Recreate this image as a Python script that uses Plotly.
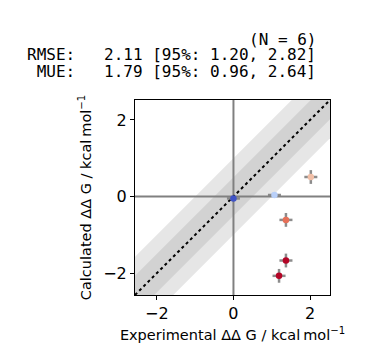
import plotly.graph_objects as go

# data
exp_ddg = [0.00, 1.07, 2.02, 1.37, 1.37, 1.19]
calc_ddg = [-0.05, 0.04, 0.51, -0.61, -1.67, -2.07]
exp_err = [0.17, 0.17, 0.17, 0.17, 0.17, 0.17]
calc_err = [0.0, 0.0, 0.18, 0.18, 0.18, 0.18]
point_colors = ["#3f53c6", "#b9d0f9", "#f2c0a8", "#e67058", "#b40426", "#b40426"]
stats_lines = ["(N = 6)", "RMSE:   2.11 [95%: 1.20, 2.82]", " MUE:   1.79 [95%: 0.96, 2.64]"]
tick_vals = [-2, 0, 2]

ax_min = min(exp_ddg + calc_ddg) - 0.5
ax_max = max(exp_ddg + calc_ddg) + 0.5

fig = go.Figure()
band = "rgba(128,128,128,0.2)"
for w in (1.0, 0.5):
    fig.add_trace(go.Scatter(
        x=[ax_min, ax_max, ax_max, ax_min, ax_min],
        y=[ax_min + w, ax_max + w, ax_max - w, ax_min - w, ax_min + w],
        fill="toself", fillcolor=band, line=dict(width=0), mode="lines",
        hoverinfo="skip", showlegend=False))

# zero lines
fig.add_trace(go.Scatter(x=[ax_min, ax_max], y=[0, 0], mode="lines",
                         line=dict(color="#808080", width=2), showlegend=False))
fig.add_trace(go.Scatter(x=[0, 0], y=[ax_min, ax_max], mode="lines",
                         line=dict(color="#808080", width=2), showlegend=False))
# diagonal
fig.add_trace(go.Scatter(x=[ax_min, ax_max], y=[ax_min, ax_max], mode="lines",
                         line=dict(color="black", width=2, dash="dot"), showlegend=False))
# points with error bars
fig.add_trace(go.Scatter(
    x=exp_ddg, y=calc_ddg, mode="markers",
    marker=dict(color=point_colors, size=6.5, line=dict(width=0)),
    error_x=dict(type="data", array=exp_err, color="rgba(128,128,128,0.9)", thickness=2.5, width=0),
    error_y=dict(type="data", array=calc_err, color="rgba(128,128,128,0.9)", thickness=2.5, width=0),
    showlegend=False))

axis_common = dict(
    range=[ax_min, ax_max], tickvals=tick_vals, ticktext=["\u22122", "0", "2"],
    showgrid=False, zeroline=False, showline=True, linecolor="black", linewidth=1,
    mirror=True, ticks="outside", ticklen=4, tickcolor="black", automargin=False,
    tickfont=dict(family="DejaVu Sans", size=16, color="black"),
)
fig.update_xaxes(**axis_common,
                 title=dict(text="Experimental \u0394\u0394 G / kcal\u2009mol<sup>\u22121</sup>",
                            font=dict(family="DejaVu Sans", size=14.5, color="black"), standoff=7))
fig.update_yaxes(**axis_common,
                 title=dict(text="Calculated \u0394\u0394 G / kcal\u2009mol<sup>\u22121</sup>",
                            font=dict(family="DejaVu Sans", size=14.5, color="black"), standoff=8))

ys = [39, 55, 71]
for line, yp in zip(stats_lines, ys):
    fig.add_annotation(text=line.replace(" ", "\u00a0"), xref="paper", yref="paper",
                       x=(318 - 135) / 195, y=(358 - 63 - yp) / 195,
                       xanchor="right", yanchor="middle", showarrow=False,
                       font=dict(family="DejaVu Sans Mono", size=16, color="black"))

fig.update_layout(
    width=372, height=358, margin=dict(l=135, r=42, t=100, b=63, autoexpand=False),
    plot_bgcolor="white", paper_bgcolor="white",
)
fig.write_html("out.html", config={"displayModeBar": False},
               post_script="document.body.style.margin='0';document.body.style.overflow='hidden';")
